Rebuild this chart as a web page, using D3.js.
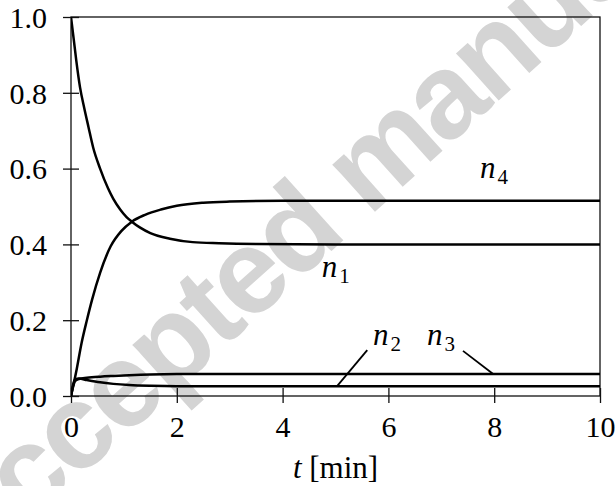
<!DOCTYPE html>
<meta charset="utf-8">
<title>n(t)</title>
<style>
  body { margin: 0; background: #fff; }
  svg text { font-family: "Liberation Serif", "Times New Roman", Tinos, Times, "DejaVu Serif", serif; }
</style>
<body>
<div id="chart"></div>
<script src="https://d3js.org/d3.v7.min.js"></script>
<script>

// values: [t in min, fraction]
var n1 = [[0,1.0],[0.05,0.943],[0.1,0.885],[0.17,0.815],[0.25,0.76],[0.33,0.71],[0.42,0.655],
          [0.55,0.6],[0.7,0.548],[0.8,0.52],[0.93,0.492],[1.05,0.472],[1.15,0.46],[1.3,0.445],
          [1.5,0.43],[1.87,0.415],[2.3,0.406],[2.8,0.403],[3.5,0.401],[5,0.40],[10,0.40]];
var n2 = [[0,0],[0.04,0.03],[0.08,0.044],[0.15,0.046],[0.3,0.042],[0.55,0.036],[0.8,0.032],
          [1.1,0.029],[1.5,0.027],[2,0.026],[3,0.026],[10,0.026]];
var n3 = [[0,0],[0.04,0.025],[0.08,0.04],[0.15,0.045],[0.3,0.048],[0.55,0.051],[0.8,0.053],
          [1.1,0.055],[1.5,0.057],[2,0.058],[3,0.058],[10,0.058]];
var n4 = [[0,0],[0.1,0.065],[0.2,0.14],[0.3,0.20],[0.4,0.255],[0.55,0.325],[0.75,0.395],
          [0.95,0.435],[1.15,0.46],[1.4,0.478],[1.7,0.492],[2.0,0.502],[2.5,0.51],[3,0.513],
          [4,0.515],[10,0.515]];
var series = [n1, n2, n3, n4];

var xTicks = [0, 2, 4, 6, 8, 10];
var yTicks = [0, 0.2, 0.4, 0.6, 0.8, 1.0];

// curve labels (data coords) and leader lines
var labels = [
  {name: "n", sub: "1", t: 4.74, v: 0.314},
  {name: "n", sub: "2", t: 5.71, v: 0.135},
  {name: "n", sub: "3", t: 6.73, v: 0.135},
  {name: "n", sub: "4", t: 7.73, v: 0.575}
];
var leaders = [
  [[5.6, 0.121], [5.03, 0.026]],
  [[7.41, 0.119], [7.98, 0.058]]
];

var W = 616, H = 486;
var margin = {top: 17, right: 16, bottom: 90, left: 71},
    width = W - margin.left - margin.right,
    height = H - margin.top - margin.bottom;

var serif = '"Liberation Serif", "Times New Roman", Tinos, Times, "DejaVu Serif", serif';

var root = d3.select("#chart").append("svg")
    .attr("width", W)
    .attr("height", H);

// watermark behind the plot
root.append("text")
    .attr("transform", "translate(-34,580) rotate(-42)")
    .style("font-family", "'Liberation Sans', Arial, sans-serif")
    .style("font-weight", "bold")
    .style("font-size", "120px")
    .style("letter-spacing", "-3.5px")
    .style("fill", "#d4d4d4")
    .text("Accepted manuscript");

var svg = root.append("g")
    .attr("transform", "translate(" + margin.left + "," + margin.top + ")");

var x = d3.scaleLinear().domain([0, 10]).range([0, width]);
var y = d3.scaleLinear().domain([0, 1]).range([height, 0]);

svg.append("clipPath").attr("id", "clip")
  .append("rect").attr("width", width).attr("height", height);

// frame
svg.append("rect")
    .attr("width", width)
    .attr("height", height)
    .attr("fill", "none")
    .attr("stroke", "#111")
    .attr("stroke-width", 1.3);

// axes, ticks cross the frame
var xAxis = svg.append("g")
    .call(d3.axisBottom(x).tickValues(xTicks).tickSize(8).tickFormat(d3.format("d")));
xAxis.attr("transform", "translate(0," + height + ")").attr("font-family", null).attr("font-size", null);
xAxis.select(".domain").remove();
xAxis.selectAll(".tick line").attr("y1", -8).attr("y2", 7).attr("stroke", "#111").attr("stroke-width", 1.3);
xAxis.selectAll(".tick text").attr("y", 41).attr("dy", 0)
    .style("font-size", "30px").style("font-family", serif).attr("fill", "#000");

var yAxis = svg.append("g")
    .call(d3.axisLeft(y).tickValues(yTicks).tickSize(8).tickFormat(d3.format(".1f")));
yAxis.attr("font-family", null).attr("font-size", null);
yAxis.select(".domain").remove();
yAxis.selectAll(".tick line").attr("x1", 8).attr("x2", -8).attr("stroke", "#111").attr("stroke-width", 1.3);
yAxis.selectAll(".tick text").attr("x", -24).attr("dy", "0.34em")
    .style("font-size", "30px").style("font-family", serif).attr("fill", "#000");

// curves
var line = d3.line()
    .x(function(d) { return x(d[0]); })
    .y(function(d) { return y(d[1]); })
    .curve(d3.curveMonotoneX);

svg.append("g").attr("clip-path", "url(#clip)")
  .selectAll("path")
  .data(series)
  .enter().append("path")
    .attr("d", line)
    .attr("fill", "none")
    .attr("stroke", "#000")
    .attr("stroke-width", 2.5);

// leader lines
svg.selectAll(".leader")
  .data(leaders)
  .enter().append("line")
    .attr("class", "leader")
    .attr("x1", function(d) { return x(d[0][0]); })
    .attr("y1", function(d) { return y(d[0][1]); })
    .attr("x2", function(d) { return x(d[1][0]); })
    .attr("y2", function(d) { return y(d[1][1]); })
    .attr("stroke", "#000")
    .attr("stroke-width", 1.8);

// curve labels
var lab = svg.selectAll(".lab")
  .data(labels)
  .enter().append("text")
    .attr("class", "lab")
    .attr("x", function(d) { return x(d.t); })
    .attr("y", function(d) { return y(d.v); })
    .style("font-family", serif)
    .style("font-size", "31px");
lab.append("tspan").style("font-style", "italic").text(function(d) { return d.name; });
lab.append("tspan").attr("dx", 2).attr("dy", 6).style("font-size", "21px").text(function(d) { return d.sub; });

// x axis title
var xt = svg.append("text")
    .attr("x", width / 2)
    .attr("y", height + 82)
    .attr("text-anchor", "middle")
    .style("font-family", serif)
    .style("font-size", "31px");
xt.append("tspan").style("font-style", "italic").text("t");
xt.append("tspan").text(" [min]");

</script>
</body>
